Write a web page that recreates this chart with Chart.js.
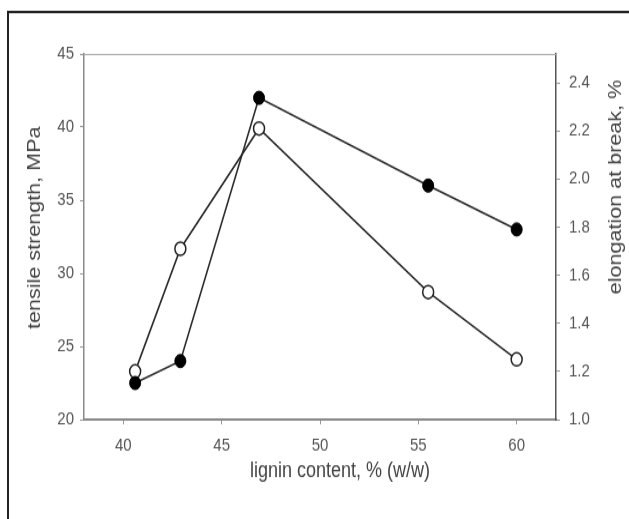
<!DOCTYPE html>
<html>
<head>
<meta charset="utf-8">
<script src="https://cdn.jsdelivr.net/npm/chart.js@4.4.1/dist/chart.umd.min.js"></script>
<style>
  html, body { margin: 0; padding: 0; background: #fff; }
  body { width: 629px; height: 519px; }
  /* the source figure is stretched vertically, so the chart is drawn short and scaled up */
  #wrap { width: 629px; height: 433px; transform: scaleY(1.1986); transform-origin: 0 0; }
</style>
</head>
<body>
<div id="wrap"><canvas id="chart" width="629" height="433"></canvas></div>
<script>
const ligninContent = [40.6, 42.9, 46.9, 55.5, 60.0];
const tensileStrength = [22.5, 24.0, 42.0, 36.0, 33.0];
const elongationAtBreak = [1.20, 1.71, 2.21, 1.53, 1.25];

const xTitle = "lignin content, % (w/w)";
const yTitle = "tensile strength, MPa";
const y1Title = "elongation at break, %";

const FONT = "'Liberation Sans', Arial, Helvetica, sans-serif";

function toPoints(xs, ys) {
  return xs.map((x, i) => ({ x: x, y: ys[i] }));
}

// frame around the figure, top border of the plot and the axis titles
const decorations = {
  id: "decorations",
  beforeDraw(chart) {
    const ctx = chart.ctx;
    ctx.save();
    ctx.fillStyle = "#fff";
    ctx.fillRect(0, 0, chart.width, chart.height);
    ctx.restore();
  },
  afterDraw(chart) {
    const ctx = chart.ctx;
    const a = chart.chartArea;
    ctx.save();
    ctx.strokeStyle = "#222";
    ctx.lineWidth = 2;
    ctx.beginPath();
    ctx.moveTo(8, chart.height + 2);
    ctx.lineTo(8, 10);
    ctx.lineTo(chart.width + 2, 10);
    ctx.stroke();

    ctx.strokeStyle = "#aaa";
    ctx.lineWidth = 1;
    ctx.beginPath();
    ctx.moveTo(a.left, a.top + 0.5);
    ctx.lineTo(a.right, a.top + 0.5);
    ctx.stroke();

    ctx.fillStyle = "#444";
    ctx.font = "18px " + FONT;
    ctx.textAlign = "center";
    ctx.textBaseline = "middle";
    ctx.fillText(xTitle, 340, 393);

    ctx.translate(35, 190);
    ctx.rotate(-Math.PI / 2);
    ctx.fillText(yTitle, 0, 0);
    ctx.setTransform(1, 0, 0, 1, 0, 0);

    ctx.translate(616, 156);
    ctx.rotate(-Math.PI / 2);
    ctx.fillText(y1Title, 0, 0);
    ctx.restore();
  }
};

new Chart(document.getElementById("chart"), {
  type: "line",
  data: {
    datasets: [
      {
        label: "tensile strength",
        data: toPoints(ligninContent, tensileStrength),
        yAxisID: "y",
        borderColor: "#2a2a2a",
        borderWidth: 1.6,
        pointRadius: 5.5,
        pointBackgroundColor: "#000",
        pointBorderColor: "#000",
        pointBorderWidth: 1,
        fill: false,
        tension: 0,
      },
      {
        label: "elongation at break",
        data: toPoints(ligninContent, elongationAtBreak),
        yAxisID: "y1",
        borderColor: "#2a2a2a",
        borderWidth: 1.6,
        pointRadius: 5.5,
        pointBackgroundColor: "#fff",
        pointBorderColor: "#222",
        pointBorderWidth: 1.5,
        fill: false,
        tension: 0,
      },
    ],
  },
  options: {
    responsive: false,
    animation: false,
    layout: { padding: { top: 45, left: 0, right: 0, bottom: 0 } },
    plugins: {
      legend: { display: false },
      tooltip: { enabled: false },
    },
    scales: {
      x: {
        type: "linear",
        min: 38,
        max: 62,
        afterFit(scale) { scale.height = 83; },
        ticks: {
          stepSize: 5,
          includeBounds: false,
          color: "#555",
          font: { size: 15, family: FONT },
          padding: 9,
          maxRotation: 0,
        },
        grid: { drawOnChartArea: false, tickLength: 4, color: "#999" },
        border: { color: "#8a8a8a", width: 2 },
      },
      y: {
        type: "linear",
        position: "left",
        min: 20,
        max: 45,
        afterFit(scale) { scale.width = 84; },
        ticks: {
          stepSize: 5,
          color: "#555",
          font: { size: 15, family: FONT },
          padding: 6,
        },
        grid: { drawOnChartArea: false, tickLength: 4, color: "#999" },
        border: { color: "#8a8a8a", width: 1.5 },
      },
      y1: {
        type: "linear",
        position: "right",
        min: 1.0,
        max: 2.52,
        afterFit(scale) { scale.width = 73; },
        ticks: {
          stepSize: 0.2,
          includeBounds: false,
          color: "#555",
          font: { size: 15, family: FONT },
          padding: 9,
          callback: (v) => Number(v).toFixed(1),
        },
        grid: { drawOnChartArea: false, tickLength: 4, color: "#999" },
        border: { color: "#555", width: 1.5 },
      },
    },
  },
  plugins: [decorations],
});
</script>
</body>
</html>
